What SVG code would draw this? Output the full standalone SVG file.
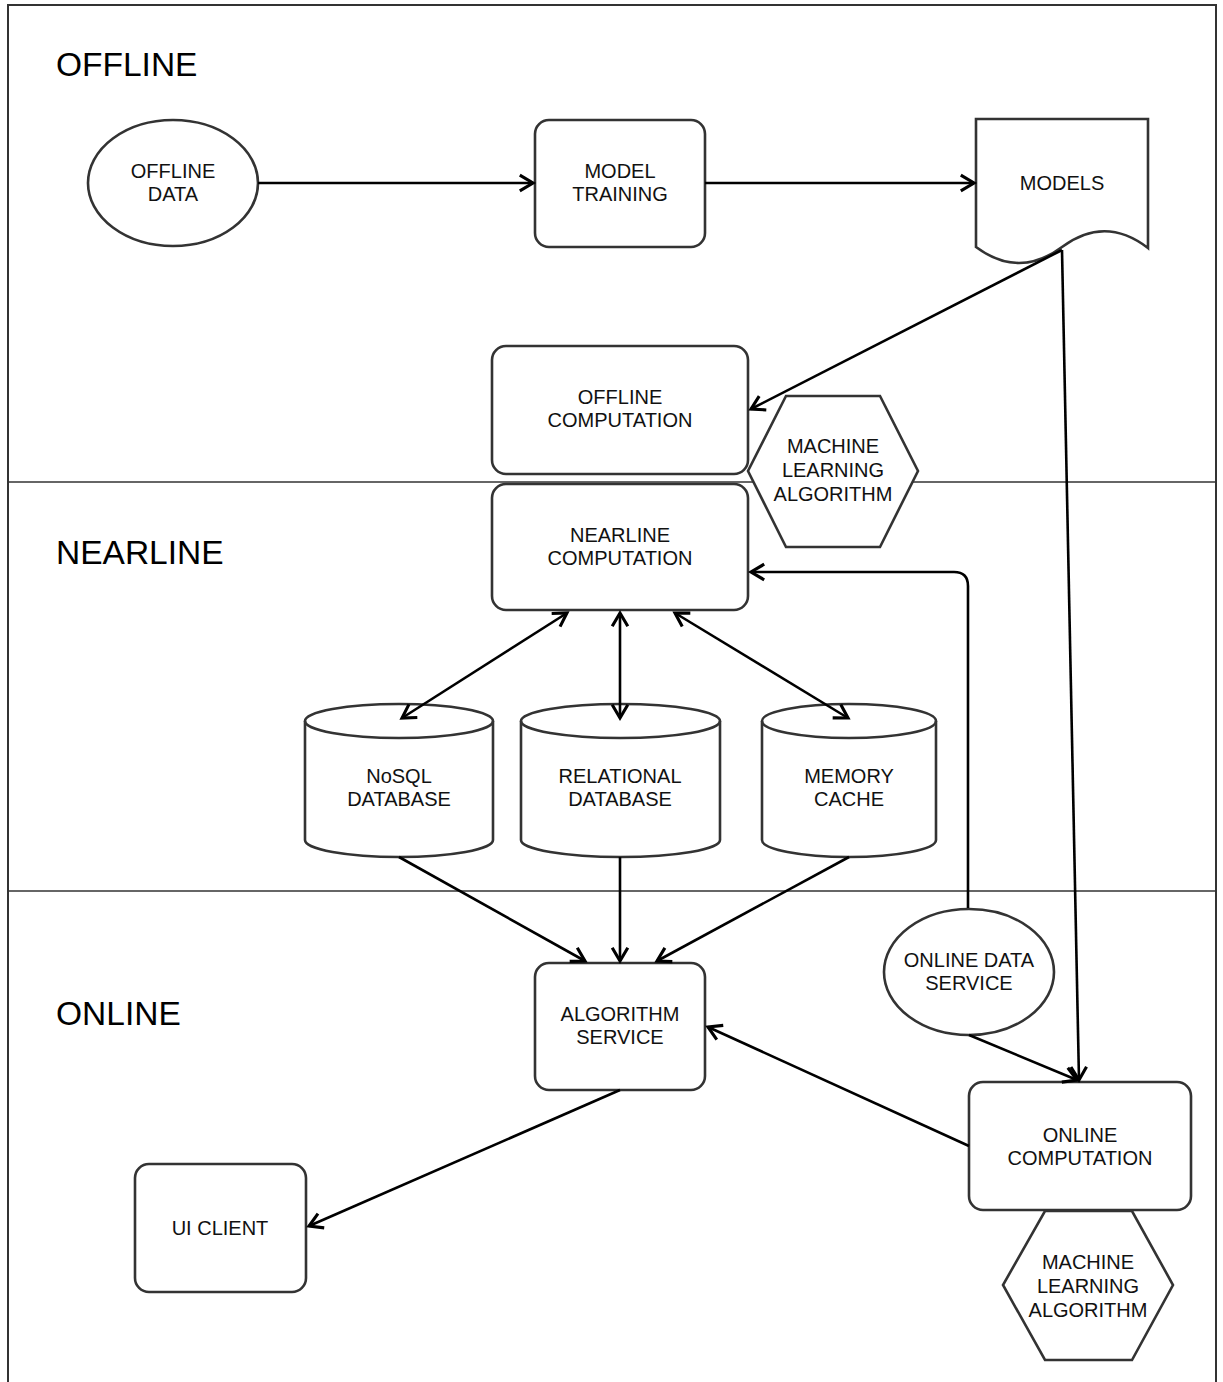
<svg xmlns="http://www.w3.org/2000/svg" width="1223" height="1382" viewBox="0 0 1223 1382">
<defs>
<style>
.frame{fill:none;stroke:#333;stroke-width:2}
.sep{fill:none;stroke:#333;stroke-width:1.6}
.node{fill:#fff;stroke:#333;stroke-width:2.6}
.cap{fill:none;stroke:#333;stroke-width:2.6}
.lbl{font-family:"Liberation Sans",Arial,Helvetica,sans-serif;font-size:20px;fill:#111;text-anchor:middle}
.sec{font-family:"Liberation Sans",Arial,Helvetica,sans-serif;font-size:33.5px;fill:#000}
.edge{fill:none;stroke:#000;stroke-width:2.6}
</style>
<marker id="arr" markerUnits="userSpaceOnUse" markerWidth="24" markerHeight="24" viewBox="-14 -10 16 20" refX="0" refY="0" orient="auto-start-reverse">
<path d="M-11,-6.5 L0,0 L-11,6.5" fill="none" stroke="#000" stroke-width="2.6"/>
</marker>
</defs>
<rect width="1223" height="1382" fill="#fff"/>
<g id="lanes">
<rect class="frame" x="8" y="5" width="1208" height="1400"/>
<line class="sep" x1="8" y1="482" x2="1216" y2="482"/>
<line class="sep" x1="8" y1="891" x2="1216" y2="891"/>
<text class="sec" x="56" y="76">OFFLINE</text>
<text class="sec" x="56" y="564">NEARLINE</text>
<text class="sec" x="56" y="1025">ONLINE</text>
</g>
<g id="offline-data">
<ellipse class="node" cx="173" cy="183" rx="85" ry="63"/>
<text class="lbl" x="173" y="178">OFFLINE</text>
<text class="lbl" x="173" y="201">DATA</text>
</g>
<g id="model-training">
<rect class="node" x="535" y="120" width="170" height="127" rx="14"/>
<text class="lbl" x="620" y="178">MODEL</text>
<text class="lbl" x="620" y="201">TRAINING</text>
</g>
<g id="models">
<path class="node" d="M976,119 H1148 V248 Q1105,215 1062,247 Q1019,279 976,247 Z"/>
<text class="lbl" x="1062" y="190">MODELS</text>
</g>
<g id="offline-computation">
<rect class="node" x="492" y="346" width="256" height="128" rx="14"/>
<text class="lbl" x="620" y="404">OFFLINE</text>
<text class="lbl" x="620" y="427">COMPUTATION</text>
</g>
<g id="ml-algorithm-offline">
<polygon class="node" points="786,396 880,396 918,471 880,547 786,547 748,471"/>
<text class="lbl" x="833" y="453">MACHINE</text>
<text class="lbl" x="833" y="477">LEARNING</text>
<text class="lbl" x="833" y="501">ALGORITHM</text>
</g>
<g id="nearline-computation">
<rect class="node" x="492" y="484" width="256" height="126" rx="14"/>
<text class="lbl" x="620" y="542">NEARLINE</text>
<text class="lbl" x="620" y="565">COMPUTATION</text>
</g>
<g id="nosql-database">
<path class="node" d="M305,721 A94,17 0 0 1 493,721 V840 A94,17 0 0 1 305,840 Z"/>
<path class="cap" d="M305,721 A94,17 0 0 0 493,721"/>
<text class="lbl" x="399" y="783">NoSQL</text>
<text class="lbl" x="399" y="806">DATABASE</text>
</g>
<g id="relational-database">
<path class="node" d="M521,721 A99.5,17 0 0 1 720,721 V840 A99.5,17 0 0 1 521,840 Z"/>
<path class="cap" d="M521,721 A99.5,17 0 0 0 720,721"/>
<text class="lbl" x="620" y="783">RELATIONAL</text>
<text class="lbl" x="620" y="806">DATABASE</text>
</g>
<g id="memory-cache">
<path class="node" d="M762,721 A87,17 0 0 1 936,721 V840 A87,17 0 0 1 762,840 Z"/>
<path class="cap" d="M762,721 A87,17 0 0 0 936,721"/>
<text class="lbl" x="849" y="783">MEMORY</text>
<text class="lbl" x="849" y="806">CACHE</text>
</g>
<g id="online-data-service">
<ellipse class="node" cx="969" cy="972" rx="85" ry="63"/>
<text class="lbl" x="969" y="967">ONLINE DATA</text>
<text class="lbl" x="969" y="990">SERVICE</text>
</g>
<g id="algorithm-service">
<rect class="node" x="535" y="963" width="170" height="127" rx="14"/>
<text class="lbl" x="620" y="1021">ALGORITHM</text>
<text class="lbl" x="620" y="1044">SERVICE</text>
</g>
<g id="online-computation">
<rect class="node" x="969" y="1082" width="222" height="128" rx="14"/>
<text class="lbl" x="1080" y="1142">ONLINE</text>
<text class="lbl" x="1080" y="1165">COMPUTATION</text>
</g>
<g id="ml-algorithm-online">
<polygon class="node" points="1045,1211 1132,1211 1173,1285 1132,1360 1045,1360 1003,1285"/>
<text class="lbl" x="1088" y="1269">MACHINE</text>
<text class="lbl" x="1088" y="1293">LEARNING</text>
<text class="lbl" x="1088" y="1317">ALGORITHM</text>
</g>
<g id="ui-client">
<rect class="node" x="135" y="1164" width="171" height="128" rx="14"/>
<text class="lbl" x="220" y="1235">UI CLIENT</text>
</g>
<g id="connectors">
<line class="edge" x1="258" y1="183" x2="533" y2="183" marker-end="url(#arr)"/>
<line class="edge" x1="705" y1="183" x2="974" y2="183" marker-end="url(#arr)"/>
<line class="edge" x1="1062" y1="250" x2="751" y2="409" marker-end="url(#arr)"/>
<line class="edge" x1="1062" y1="250" x2="1079" y2="1080" marker-end="url(#arr)"/>
<path class="edge" d="M968,908 V586 Q968,572 954,572 H751" marker-end="url(#arr)"/>
<line class="edge" x1="567" y1="613" x2="402" y2="718" marker-start="url(#arr)" marker-end="url(#arr)"/>
<line class="edge" x1="620" y1="613" x2="620" y2="718" marker-start="url(#arr)" marker-end="url(#arr)"/>
<line class="edge" x1="675" y1="613" x2="848" y2="718" marker-start="url(#arr)" marker-end="url(#arr)"/>
<line class="edge" x1="399" y1="857" x2="585" y2="961" marker-end="url(#arr)"/>
<line class="edge" x1="620" y1="857" x2="620" y2="961" marker-end="url(#arr)"/>
<line class="edge" x1="849" y1="857" x2="657" y2="961" marker-end="url(#arr)"/>
<line class="edge" x1="969" y1="1035" x2="1077" y2="1080" marker-end="url(#arr)"/>
<line class="edge" x1="969" y1="1146" x2="708" y2="1027" marker-end="url(#arr)"/>
<line class="edge" x1="620" y1="1090" x2="309" y2="1226" marker-end="url(#arr)"/>
</g>
</svg>
